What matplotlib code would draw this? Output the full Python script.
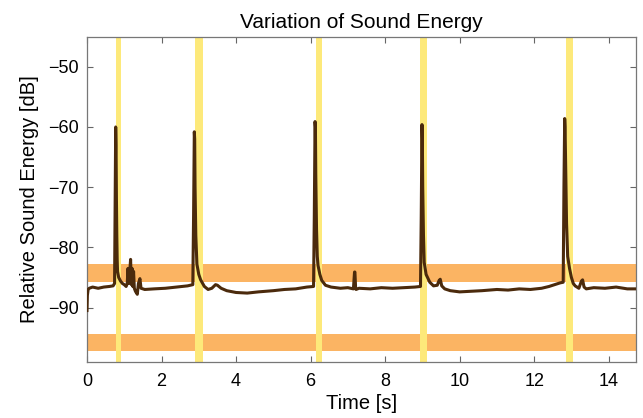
import numpy as np
import matplotlib.pyplot as plt

plt.rcParams['font.family'] = ['Liberation Sans', 'DejaVu Sans']

# energy trace (time in s, level in dB)
t = [0.00, 0.01, 0.03, 0.06, 0.15, 0.30, 0.45, 0.60, 0.70, 0.74, 0.76, 0.77, 0.78, 0.79,
     0.80, 0.81, 0.82, 0.85, 0.90, 0.95, 1.00, 1.05, 1.08, 1.10, 1.12, 1.15, 1.17, 1.19,
     1.21, 1.23, 1.25, 1.27, 1.30, 1.35, 1.38, 1.42, 1.45, 1.55, 1.80, 2.10, 2.40, 2.70,
     2.84, 2.86, 2.88, 2.89, 2.90, 2.92, 2.95, 3.00, 3.05, 3.15, 3.25, 3.35, 3.45, 3.50,
     3.60, 3.75, 4.00, 4.30, 4.60, 5.00, 5.30, 5.60, 5.90, 6.08, 6.10, 6.12, 6.13, 6.14,
     6.16, 6.18, 6.20, 6.25, 6.30, 6.40, 6.55, 6.80, 7.00, 7.15, 7.18, 7.19, 7.21, 7.22,
     7.30, 7.60, 7.90, 8.20, 8.50, 8.80, 8.95, 8.97, 8.99, 9.00, 9.01, 9.03, 9.05, 9.10,
     9.20, 9.30, 9.40, 9.45, 9.48, 9.52, 9.60, 9.75, 10.00, 10.30, 10.60, 11.00, 11.30,
     11.60, 11.90, 12.20, 12.40, 12.55, 12.70, 12.78, 12.80, 12.82, 12.83, 12.85, 12.87,
     12.90, 12.95, 13.00, 13.05, 13.10, 13.20, 13.27, 13.30, 13.34, 13.40, 13.60, 13.90,
     14.20, 14.50, 14.73]
level = [-90.5, -88.0, -87.0, -86.8, -86.6, -86.8, -86.6, -86.5, -86.4, -86.0, -70.0,
         -60.0, -63.0, -72.0, -78.0, -82.0, -84.0, -85.0, -85.6, -86.0, -86.2, -86.5,
         -86.0, -83.5, -86.0, -83.8, -82.0, -86.2, -83.5, -86.5, -84.0, -86.8, -87.3,
         -87.8, -86.0, -85.2, -86.8, -87.0, -86.9, -86.8, -86.6, -86.4, -86.2, -75.0,
         -60.8, -62.0, -70.0, -78.0, -82.8, -84.5, -85.4, -86.5, -87.0, -86.8, -86.2,
         -86.3, -86.8, -87.2, -87.5, -87.6, -87.4, -87.2, -87.0, -86.9, -86.6, -86.5,
         -75.0, -59.1, -60.0, -68.0, -77.0, -81.5, -83.0, -84.5, -85.5, -86.3, -86.6,
         -86.8, -86.7, -86.9, -84.1, -84.1, -86.9, -87.0, -86.8, -86.9, -86.7, -86.8,
         -86.7, -86.6, -86.5, -75.0, -59.6, -62.0, -70.0, -78.0, -82.5, -84.5, -85.8,
         -86.4, -86.3, -85.5, -85.3, -86.4, -86.9, -87.2, -87.4, -87.3, -87.2, -87.0,
         -87.1, -86.9, -87.0, -86.8, -86.5, -86.2, -85.9, -85.8, -70.0, -58.6, -60.0,
         -68.0, -76.0, -81.5, -83.5, -85.0, -86.0, -86.4, -86.8, -85.6, -85.4, -86.6,
         -86.9, -86.7, -86.8, -86.6, -86.9, -86.9]

# highlighted regions
event_start = [0.77, 2.91, 6.14, 8.95, 12.86]
event_end = [0.92, 3.12, 6.32, 9.13, 13.04]
band_low = [-85.8, -97.2]
band_high = [-82.8, -94.4]

fig = plt.figure(figsize=(6.43, 4.18), dpi=100)
ax = fig.add_axes([0.1353, 0.1347, 0.8536, 0.7775])

for lo, hi in zip(band_low, band_high):
    ax.axhspan(lo, hi, color='#fbb463', lw=0, zorder=1)
for a, b in zip(event_start, event_end):
    ax.axvspan(a, b, color='#fde97a', lw=0, zorder=2)

ax.plot(t, level, color='#4b2a0c', lw=2.2, zorder=3)

ax.set_xlim(0, 14.73)
ax.set_ylim(-99, -45)
ax.set_xticks(np.arange(0, 15, 2))
ax.set_yticks([-90, -80, -70, -60, -50])
ax.tick_params(direction='in', top=True, right=True, labelsize=13, length=4,
               color='#666666', width=0.8)
ax.tick_params(axis='x', pad=8)
ax.tick_params(axis='y', pad=6)
for s in ax.spines.values():
    s.set_color('#777777')
    s.set_linewidth(0.9)

ax.set_xlabel('Time [s]', fontsize=14.5, labelpad=3)
ax.set_ylabel('Relative Sound Energy [dB]', fontsize=14.5, labelpad=6.5)
ax.set_title('Variation of Sound Energy', fontsize=15, pad=6)

fig.savefig('out.png', dpi=100)
